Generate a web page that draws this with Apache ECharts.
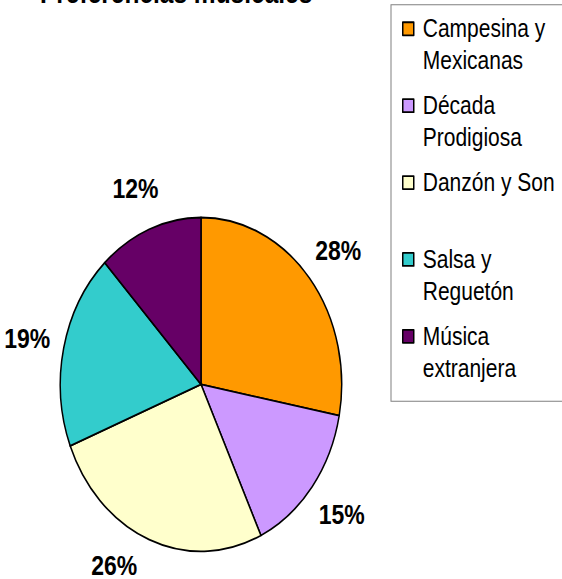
<!DOCTYPE html>
<html>
<head>
<meta charset="utf-8">
<script src="https://cdn.jsdelivr.net/npm/echarts@6/dist/echarts.min.js"></script>
<style>
  html, body { margin: 0; padding: 0; background: #fff; }
  #page { width: 562px; height: 579px; overflow: hidden; position: relative; }
  /* the original picture is stretched vertically, so the whole chart is too */
  #chart {
    position: absolute;
    left: 0;
    top: 0;
    width: 562px;
    height: 488px;
    transform: scaleY(1.1865);
    transform-origin: 0 0;
  }
</style>
</head>
<body>
<div id="page"><div id="chart"></div></div>
<script>
// data
const categories = ['Campesina y\nMexicanas', 'Década\nProdigiosa', 'Danzón y Son\n ', 'Salsa y\nReguetón', 'Música\nextranjera']
const values = [28, 15, 26, 19, 12]
const colors = ['#FF9900', '#CC99FF', '#FFFFCC', '#33CCCC', '#660066']

const pieCenter = [201, 324]
const labelRing = [150, 200]

const pieData = categories.map((name, i) => ({
  name: name,
  value: values[i],
  itemStyle: { color: colors[i] }
}))

const chartDom = document.getElementById('chart')
const chart = echarts.init(chartDom, null, { renderer: 'svg' })

// keep labels inside the picture: a label that would fall off the bottom
// is pulled up and slid along its ring, like the spreadsheet does
const keepLabelInside = params => {
  const r = params.labelRect
  const h = chart.getHeight()
  const cy = r.y + r.height / 2
  const maxY = h - r.height / 2 - 0.5
  if (cy <= maxY) return {}
  const cx = r.x + r.width / 2
  const R = (labelRing[0] + labelRing[1]) / 2
  const dy = maxY - pieCenter[1]
  const dx = Math.sqrt(Math.max(R * R - dy * dy, 0)) * (cx < pieCenter[0] ? -1 : 1)
  return { x: pieCenter[0] + dx, y: maxY }
}

const option = {
  backgroundColor: '#fff',
  animation: false,
  title: {
    text: 'Preferencias musicales',
    left: 40,
    top: -18.5,
    padding: 0,
    textStyle: {
      fontFamily: 'Liberation Sans, Arial, sans-serif',
      fontSize: 24.5,
      fontWeight: 'bold',
      color: '#000'
    }
  },
  legend: {
    orient: 'vertical',
    left: 391,
    top: 4,
    padding: [6, 20, 13.5, 11],
    itemGap: 9.3,
    itemWidth: 15,
    itemHeight: 54,
    // square sits level with the first text line
    icon: 'path://M0,0M0,8h11v11h-11zM15,54',
    backgroundColor: '#fff',
    borderColor: '#808080',
    borderWidth: 1,
    borderRadius: 0,
    itemStyle: { borderColor: '#000', borderWidth: 1.5 },
    data: categories,
    textStyle: {
      fontFamily: 'Liberation Sans, Arial, sans-serif',
      fontSize: 21,
      lineHeight: 27,
      color: '#000'
    }
  },
  series: [
    {
      name: 'Preferencias',
      type: 'pie',
      center: pieCenter,
      radius: 140.7,
      startAngle: 90,
      clockwise: true,
      silent: true,
      label: { show: false },
      labelLine: { show: false },
      itemStyle: { borderColor: '#000', borderWidth: 1.5 },
      data: pieData
    },
    {
      // transparent ring only used to place the percentage labels
      name: 'Etiquetas',
      type: 'pie',
      center: pieCenter,
      radius: labelRing,
      startAngle: 90,
      clockwise: true,
      silent: true,
      itemStyle: { color: 'rgba(0,0,0,0)', borderWidth: 0 },
      label: {
        show: true,
        position: 'inside',
        rotate: 0,
        formatter: p => p.value + '%',
        fontFamily: 'Liberation Sans, Arial, sans-serif',
        fontSize: 23,
        fontWeight: 'bold',
        color: '#000'
      },
      labelLine: { show: false },
      labelLayout: keepLabelInside,
      data: pieData.map(d => ({ name: d.name, value: d.value, itemStyle: { color: 'rgba(0,0,0,0)' } }))
    }
  ]
}

chart.setOption(option)
</script>
</body>
</html>
